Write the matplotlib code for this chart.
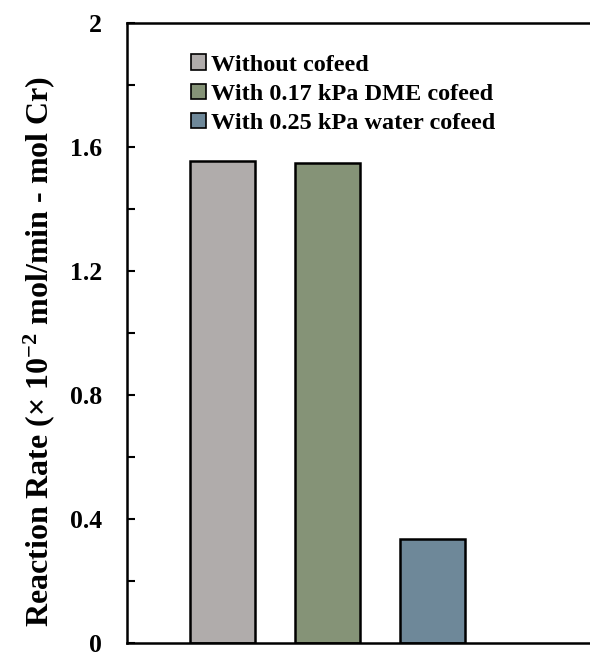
import matplotlib
matplotlib.use('Agg')
import matplotlib.pyplot as plt
from matplotlib.ticker import MultipleLocator

labels = ['Without cofeed', 'With 0.17 kPa DME cofeed', 'With 0.25 kPa water cofeed']
rates = [1.555, 1.548, 0.335]
colors = ['#B0ACAB', '#859377', '#6E8899']
yticks = [0, 0.4, 0.8, 1.2, 1.6, 2]
ytick_labels = ['0', '0.4', '0.8', '1.2', '1.6', '2']

plt.rcParams['font.family'] = ['Liberation Serif', 'DejaVu Serif']
plt.rcParams['font.weight'] = 'bold'
plt.rcParams['mathtext.fontset'] = 'custom'
plt.rcParams['mathtext.rm'] = 'Liberation Serif:bold'
plt.rcParams['mathtext.bf'] = 'Liberation Serif:bold'
plt.rcParams['mathtext.it'] = 'Liberation Serif:bold'

fig = plt.figure(figsize=(5.9, 6.52), dpi=100)
ax = fig.add_axes([127 / 590, 9 / 652, 1 - 127 / 590, 620 / 652])

for i, (r, c, lab) in enumerate(zip(rates, colors, labels)):
    ax.bar(i, r, width=0.62, color=c, edgecolor='black', linewidth=1.8, label=lab)

ax.set_xlim(-0.91, 3.5)
ax.set_ylim(0, 2)
ax.set_xticks([])
ax.set_yticks(yticks)
ax.set_yticklabels(ytick_labels, fontsize=18.5, fontweight='bold')
ax.yaxis.set_minor_locator(MultipleLocator(0.2))
ax.tick_params(axis='y', which='both', direction='in', length=6, width=1.5, pad=18)

ax.spines['right'].set_visible(False)
for s in ['left', 'top', 'bottom']:
    ax.spines[s].set_linewidth(1.8)

ax.set_ylabel('Reaction Rate (\u00d7 10$^{\\mathregular{-2}}$ mol/min - mol Cr)', fontsize=23,
              fontweight='bold', labelpad=9)
ax.yaxis.label.set_y(0.471)

leg = ax.legend(loc='upper left', bbox_to_anchor=(0.118, 0.965), frameon=False,
                prop={'size': 17.5, 'weight': 'bold'}, handlelength=0.6,
                handleheight=0.6, handletextpad=0.2, labelspacing=0.33,
                borderaxespad=0)
for h in leg.legend_handles:
    h.set_linewidth(1.2)

fig.savefig('out.png', dpi=100)
